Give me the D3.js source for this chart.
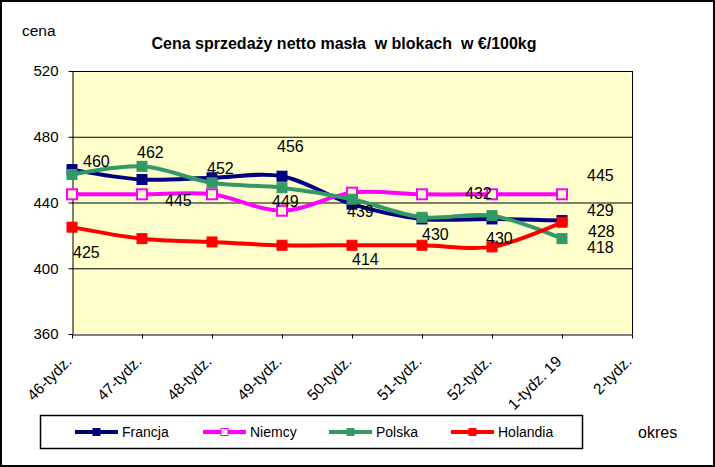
<!DOCTYPE html>
<html>
<head>
<meta charset="utf-8">
<script src="https://cdn.jsdelivr.net/npm/d3@7/dist/d3.min.js"></script>
<style>
  html, body { margin: 0; padding: 0; background: #fff; }
  svg { display: block; font-family: "Liberation Sans", Arial, sans-serif; }
</style>
</head>
<body>
<svg id="chart" width="715" height="467"></svg>
<script>
// ---- data ----
const categories = ["46-tydz.", "47-tydz.", "48-tydz.", "49-tydz.", "50-tydz.", "51-tydz.", "52-tydz.", "1-tydz. 19", "2-tydz."];
const seriesNames = ["Francja", "Niemcy", "Polska", "Holandia"];
const francja  = [460, 454, 455, 456, 439, 430, 430, 429];
const niemcy   = [445, 445, 445, 435, 446, 445, 445, 445];
const polska   = [457, 462, 452, 449, 442, 431, 432, 418];
const holandia = [425, 418, 416, 414, 414, 414, 413, 428];
const yTicks = [360, 400, 440, 480, 520];
const title = "Cena sprzedaży netto masła  w blokach  w €/100kg";
const yTitle = "cena";
const xTitle = "okres";

// data labels: which series / point is labelled
const labelRefs = [
  { s: 0, i: 0, dx: 11, dy: -3 },
  { s: 2, i: 1, dx: -5, dy: -8 },
  { s: 2, i: 2, dx: -5, dy: -9 },
  { s: 0, i: 3, dx: -5, dy: -24 },
  { s: 1, i: 1, dx: 23, dy: 12 },
  { s: 2, i: 3, dx: -10, dy: 19 },
  { s: 3, i: 0, dx: 1, dy: 31 },
  { s: 0, i: 4, dx: -5, dy: 13 },
  { s: 0, i: 5, dx: 0, dy: 21 },
  { s: 2, i: 6, dx: -27, dy: -17 },
  { s: 0, i: 6, dx: -6, dy: 25 },
  { s: 3, i: 4, dx: 0, dy: 20 },
  { s: 1, i: 7, dx: 25, dy: -13 },
  { s: 0, i: 7, dx: 25, dy: -5 },
  { s: 3, i: 7, dx: 26, dy: 15 },
  { s: 2, i: 7, dx: 25, dy: 14 }
];

const values = [francja, niemcy, polska, holandia];
const colors = ["#000080", "#FF00FF", "#339966", "#FF0000"];
const hollow = [false, true, false, false];

// ---- layout ----
const svg = d3.select("#chart");
const plot = { left: 72, right: 632, top: 71, bottom: 334 };

const x = d3.scalePoint().domain(categories).range([plot.left, plot.right]);
const y = d3.scaleLinear().domain([360, 520]).range([plot.bottom, plot.top]);

// outer border
svg.append("rect").attr("x", 1).attr("y", 1).attr("width", 713).attr("height", 465)
  .attr("fill", "#fff").attr("stroke", "#000").attr("stroke-width", 2);

// plot background
svg.append("rect").attr("x", plot.left).attr("y", plot.top)
  .attr("width", plot.right - plot.left).attr("height", plot.bottom - plot.top)
  .attr("fill", "#FFFFCC");

// gridlines
svg.append("g").selectAll("line").data(yTicks.filter(v => v > 360)).join("line")
  .attr("x1", plot.left).attr("x2", plot.right)
  .attr("y1", d => y(d) + 0.5).attr("y2", d => y(d) + 0.5)
  .attr("stroke", "#000").attr("stroke-width", 1);

// right border
svg.append("line").attr("x1", plot.right + 0.5).attr("x2", plot.right + 0.5)
  .attr("y1", plot.top).attr("y2", plot.bottom).attr("stroke", "#000");

// y axis
const yAxis = svg.append("g").attr("transform", `translate(${plot.left + 0.5},0)`)
  .call(d3.axisLeft(y).tickValues(yTicks).tickSize(4).tickSizeOuter(0).tickPadding(10));
yAxis.selectAll("text").attr("font-size", 15).attr("font-family", "Liberation Sans, Arial").attr("fill", "#000");
yAxis.selectAll("line, path").attr("stroke", "#000");

// x axis
const xAxis = svg.append("g").attr("transform", `translate(0,${plot.bottom + 0.5})`)
  .call(d3.axisBottom(x).tickSize(4).tickSizeOuter(0));
xAxis.selectAll("text")
  .attr("font-size", 15.5).attr("font-family", "Liberation Sans, Arial").attr("fill", "#000")
  .attr("text-anchor", "end").attr("x", 0).attr("y", 28).attr("dy", 0)
  .attr("transform", "rotate(-45,0,28)");
xAxis.selectAll("line, path").attr("stroke", "#000");

// lines
const line = d3.line().x((d, i) => x(categories[i])).y(d => y(d)).curve(d3.curveCatmullRom.alpha(0.5));
const ms = 10;
values.forEach((vals, s) => {
  const g = svg.append("g");
  g.append("path").datum(vals).attr("d", line)
    .attr("fill", "none").attr("stroke", colors[s]).attr("stroke-width", 4).attr("stroke-linejoin", "round");
  g.selectAll("rect").data(vals).join("rect")
    .attr("x", (d, i) => x(categories[i]) - ms / 2)
    .attr("y", d => y(d) - ms / 2)
    .attr("width", ms).attr("height", ms)
    .attr("fill", hollow[s] ? "#FFFFCC" : colors[s])
    .attr("stroke", colors[s]).attr("stroke-width", hollow[s] ? 2 : 1);
});

// data labels
svg.append("g").selectAll("text").data(labelRefs).join("text")
  .attr("x", d => x(categories[d.i]) + d.dx)
  .attr("y", d => y(values[d.s][d.i]) + d.dy)
  .attr("font-size", 16).attr("fill", "#000")
  .text(d => d3.format("d")(values[d.s][d.i]));

// title
svg.append("text").attr("x", 344).attr("y", 49).attr("text-anchor", "middle")
  .attr("font-size", 16).attr("font-weight", "bold").style("white-space", "pre").text(title);

// axis titles
svg.append("text").attr("x", 22).attr("y", 36).attr("font-size", 15.5).text(yTitle);
svg.append("text").attr("x", 638).attr("y", 438).attr("font-size", 16).text(xTitle);

// legend
svg.append("rect").attr("x", 40.5).attr("y", 415.5).attr("width", 542).attr("height", 33)
  .attr("fill", "#fff").attr("stroke", "#000").attr("stroke-width", 1.5);
const legendX = [75, 203, 329, 451];
seriesNames.forEach((name, s) => {
  const g = svg.append("g").attr("transform", `translate(${legendX[s]},432)`);
  g.append("line").attr("x1", 0).attr("x2", 43).attr("y1", 0).attr("y2", 0)
    .attr("stroke", colors[s]).attr("stroke-width", 4);
  g.append("rect").attr("x", 21.5 - 3.5).attr("y", -3.5).attr("width", 7).attr("height", 7)
    .attr("fill", hollow[s] ? "#fff" : colors[s]).attr("stroke", colors[s]).attr("stroke-width", 1);
  g.append("text").attr("x", 47).attr("y", 5).attr("font-size", 14).text(name);
});
</script>
</body>
</html>
